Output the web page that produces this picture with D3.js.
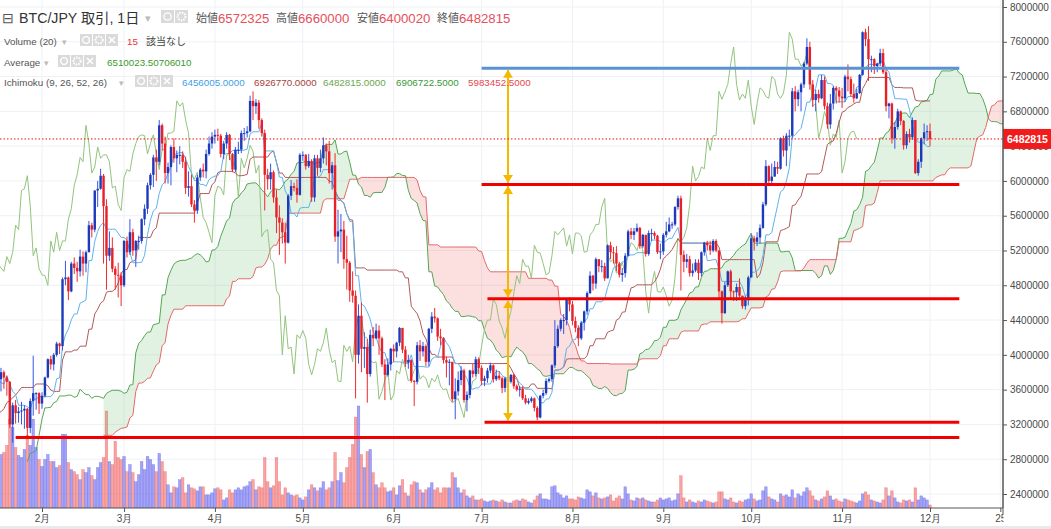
<!DOCTYPE html>
<html>
<head>
<meta charset="utf-8">
<script src="https://cdn.jsdelivr.net/npm/d3@7"></script>
<style>
body { margin: 0; background: #fff; overflow: hidden; }
svg { display: block; }
</style>
</head>
<body>
<div id="chart"></div>
<script>
// daily BTC/JPY bars, prices in 万円 (10,000 JPY). open = previous close.
const startDay = "2020-12-08";
const firstOpen = 199;
const visibleFrom = "2021-01-18";

const closeMan = [
  190,193,190,188,195,199,200,202,221,237,240,248,244,236,247,241,246,257,274,273,281,284,299,301,
  305,334,340,332,353,382,409,424,418,397,369,353,388,407,382,376,372,380,374,369,320,342,333,335,336,338,316,347,356,356,344,
  353,374,395,389,400,413,410,487,489,473,505,500,496,513,505,518,549,544,589,591,606,571,514,523,499,492,491,480,
  531,518,541,520,531,531,556,568,595,607,627,622,664,643,609,616,639,626,630,630,622,592,594,573,566,604,613,611,631,643,651,
  653,652,631,643,653,631,613,636,636,655,655,657,692,686,690,670,655,607,602,610,581,558,552,541,529,583,594,592,584,630,
  630,617,623,581,626,615,626,641,634,609,618,536,542,544,510,506,474,468,400,445,407,409,378,423,419,428,419,389,377,389,407,
  404,414,431,406,391,394,370,369,411,404,410,392,430,444,442,421,419,394,391,392,349,358,371,382,348,354,382,378,395,385,
  370,373,382,388,372,376,373,362,373,369,377,364,360,361,350,345,347,350,339,328,353,356,370,372,388,410,430,440,440,464,458,
  439,431,419,437,450,471,491,482,510,502,502,488,526,518,517,505,492,494,514,542,538,542,546,525,538,516,540,540,537,518,519,
  538,542,550,550,570,580,515,507,510,494,497,506,494,518,529,526,520,531,520,473,448,480,496,473,472,478,468,456,463,489,
  534,530,535,546,573,617,600,605,616,614,649,635,652,652,703,694,702,711,735,754,711,693,700,695,716,686,665,689,707,704,697,
  695,720,717,700,695,701,722,771,763,740,740,732,735,747,725,686,689,649,662,680,669,641,654,650,670,609,622,649,656,657.2325,
  648.2815
];
const highMan = [
  200,194,193,190,196,200,202,203,222,243,244,249,249,247,249,248,248,258,276,290,284,287,301,304,
  308,343,355,349,356,384,415,434,430,420,400,380,391,417,410,385,378,385,382,376,370,345,348,340,346,342,339,350,399,357,357,
  357,375,396,399,402,415,414,489,508,490,507,512,507,521,519,520,554,552,589,600,614,608,579,542,535,502,506,495,
  532,536,556,545,532,537,557,573,598,609,630,636,670,666,651,621,641,649,635,640,634,628,611,607,578,607,615,620,636,651,656,
  659,660,654,646,656,654,632,639,645,658,661,663,698,703,694,693,672,659,614,620,612,590,572,557,552,585,601,598,602,632,
  634,631,631,625,630,630,636,650,643,646,622,632,567,562,554,537,508,496,474,458,460,426,418,429,432,436,434,421,395,396,408,
  412,415,432,431,410,400,395,371,415,417,415,412,431,449,454,443,430,420,398,395,392,373,381,387,384,358,383,390,398,397,
  388,376,385,391,389,383,381,375,375,376,378,378,366,364,364,354,350,352,351,341,354,360,373,374,389,440,434,442,447,465,466,
  462,444,434,439,451,473,496,492,512,510,509,506,527,530,524,525,507,500,517,544,546,546,551,547,539,538,543,545,542,538,528,
  540,553,558,553,571,583,583,520,516,514,505,510,510,519,530,531,531,533,533,520,474,484,497,498,474,482,488,468,468,491,
  538,537,541,550,576,624,618,620,623,622,650,652,655,659,707,709,705,713,737,764,760,716,705,705,722,720,690,700,709,709,708,
  707,722,734,720,712,706,723,772,775,778,744,741,736,752,752,728,690,690,668,683,681,670,657,660,673,670,625,650,666,664,
  666
];
const lowMan = [
  187,184,186,181,188,193,197,198,200,221,230,238,237,227,231,234,235,242,256,261,267,274,282,293,
  297,302,325,291,322,350,377,393,390,375,316,335,337,380,365,351,346,358,361,353,316,299,321,322,320,315,305,310,330,337,332,
  338,351,373,383,382,398,401,405,480,463,472,493,484,490,491,495,518,535,541,570,590,505,475,508,495,475,466,456,
  478,512,515,514,501,521,528,549,562,590,593,600,618,635,597,597,595,621,610,619,615,585,582,570,552,562,600,604,603,629,637,
  643,646,627,625,637,624,610,610,631,632,646,650,656,670,677,660,651,566,590,590,575,540,515,528,505,528,578,588,575,583,
  623,613,615,576,576,606,610,620,618,597,590,530,505,518,499,475,461,460,350,390,380,385,345,375,410,418,400,386,348,375,382,
  392,397,410,402,386,384,368,341,366,393,398,387,387,425,437,416,411,390,374,365,346,326,353,365,345,335,350,374,375,378,
  365,364,368,379,368,370,371,356,357,365,367,361,358,352,348,343,343,345,335,325,327,350,354,368,369,385,408,427,424,434,450,
  434,426,410,417,428,446,470,474,476,495,495,485,488,510,505,496,489,484,489,513,533,532,541,522,523,513,514,531,533,516,510,
  515,535,541,545,548,567,474,495,500,490,490,495,486,490,514,520,515,518,518,465,436,447,478,465,462,462,466,453,452,457,
  489,520,525,528,545,571,594,597,605,608,613,628,617,640,649,680,686,680,707,733,705,685,680,690,694,682,660,660,682,689,690,
  684,691,703,697,690,694,700,721,755,715,725,723,725,732,723,680,672,643,637,659,664,636,637,644,647,608,606,615,642,646,
  640.002
];
// volume from 2021-01-18 (relative units)
const volume = [
  53,55,62,88,80,60,52,50,58,72,62,88,60,48,
  41,48,53,46,46,40,42,73,73,45,38,36,33,28,38,35,40,32,28,40,45,50,96,46,43,66,50,48,
  51,36,43,35,26,33,46,38,51,48,43,36,54,46,36,23,15,21,20,28,30,15,23,20,19,17,21,21,13,13,15,
  19,20,18,8,10,18,15,18,20,18,21,22,26,28,18,21,20,50,26,20,22,50,26,13,20,15,13,12,13,10,
  8,11,18,23,20,17,20,26,18,20,26,55,27,35,25,40,50,63,90,101,53,40,56,58,35,23,20,25,20,16,17,
  20,13,22,28,15,12,23,26,25,18,15,18,20,25,18,20,15,20,20,20,35,30,20,15,18,12,10,12,8,8,
  9,7,6,7,8,7,6,8,6,5,5,7,8,7,9,8,6,5,8,12,14,9,9,8,21,22,15,13,10,12,9,
  9,8,11,10,9,18,16,12,15,10,9,10,11,13,7,10,12,9,21,14,8,7,10,9,10,8,7,6,6,8,10,
  8,9,10,7,8,14,32,10,6,8,6,5,7,6,8,7,6,5,6,16,16,9,8,10,6,5,7,6,8,9,
  14,9,7,8,17,21,11,9,8,6,14,12,13,11,18,10,14,12,16,20,17,12,8,7,9,11,17,12,8,9,7,
  6,9,8,7,6,5,7,14,16,13,8,7,6,5,8,20,12,17,10,6,5,8,7,8,6,20,8,12,10,8,
  3
];

const priceTicks = [2400000,2800000,3200000,3600000,4000000,4400000,4800000,5200000,5600000,6000000,6400000,6800000,7200000,7600000,8000000];
const monthTicks = [
  ["2021-02-01","2月"],["2021-03-01","3月"],["2021-04-01","4月"],["2021-05-01","5月"],
  ["2021-06-01","6月"],["2021-07-01","7月"],["2021-08-01","8月"],["2021-09-01","9月"],
  ["2021-10-01","10月"],["2021-11-01","11月"],["2021-12-01","12月"],["2021-12-25","25"]
];
// hand-drawn levels
const levelPrices = [7295000, 5960000, 4645000, 3225000, 3050000];
const levelStarts = ["2021-07-01","2021-07-01","2021-07-03","2021-07-02","2021-01-23"];
const levelColors = ["#5a92d2","#f00000","#f00000","#f00000","#f00000"];
const levelEnd = "2021-12-11";
const arrowDate = "2021-07-10";
const arrowLegs = [[7295000,5960000],[5960000,4645000],[4645000,3225000]];
const lastClose = 6482815;

const W = 1051, H = 529, plotR = 1003, plotB = 508;
const parse = d3.utcParse("%Y-%m-%d");
const day0 = parse(startDay);
const visStart = parse(visibleFrom);

const bars = closeMan.map((c, i) => ({
  date: d3.utcDay.offset(day0, i),
  open: (i === 0 ? firstOpen : closeMan[i - 1]) * 10000,
  close: c * 10000,
  high: highMan[i] * 10000,
  low: lowMan[i] * 10000
}));
const visIndex = bars.findIndex(b => +b.date === +visStart);
bars.forEach((b, i) => { b.vol = i >= visIndex ? volume[i - visIndex] : null; });

const x = d3.scaleUtc().domain([parse("2021-02-01"), parse("2021-12-01")]).range([42, 930]);
const y = d3.scaleLinear().domain([2400000, 8000000]).range([494, 7]);
const yVol = d3.scaleLinear().domain([0, 100]).range([plotB, 407]);

// ichimoku (9, 26, 52, 26)
function midRange(i, n) {
  if (i < n - 1) return null;
  let hi = -Infinity, lo = Infinity;
  for (let k = i - n + 1; k <= i; k++) { hi = Math.max(hi, bars[k].high); lo = Math.min(lo, bars[k].low); }
  return (hi + lo) / 2;
}
const tenkan = bars.map((b, i) => ({ date: b.date, v: midRange(i, 9) }));
const kijun = bars.map((b, i) => ({ date: b.date, v: midRange(i, 26) }));
const cloud = bars.map((b, i) => ({
  date: d3.utcDay.offset(b.date, 25),
  a: tenkan[i].v != null && kijun[i].v != null ? (tenkan[i].v + kijun[i].v) / 2 : null,
  b: midRange(i, 52)
}));
const chikou = bars.map(b => ({ date: d3.utcDay.offset(b.date, -25), v: b.close }));

const svg = d3.select("#chart").append("svg").attr("width", W).attr("height", H)
  .style("font-family", "'Liberation Sans', 'Noto Sans CJK JP', sans-serif");

svg.append("defs").append("clipPath").attr("id", "plot")
  .append("rect").attr("x", 0).attr("y", 0).attr("width", plotR).attr("height", plotB);

const marker = svg.select("defs").append("marker").attr("id", "head")
  .attr("viewBox", "0 0 8 10").attr("refX", 8).attr("refY", 5)
  .attr("markerWidth", 8).attr("markerHeight", 10).attr("markerUnits", "userSpaceOnUse")
  .attr("orient", "auto-start-reverse");
marker.append("path").attr("d", "M0,0L8,5L0,10Z").attr("fill", "#f5b800");

// grid
const grid = svg.append("g");
grid.selectAll(".hg").data(priceTicks).join("line")
  .attr("x1", 0).attr("x2", plotR).attr("y1", d => y(d)).attr("y2", d => y(d))
  .attr("stroke", "#eef1f5");
grid.selectAll(".vg").data(monthTicks).join("line")
  .attr("x1", d => x(parse(d[0]))).attr("x2", d => x(parse(d[0])))
  .attr("y1", 0).attr("y2", plotB).attr("stroke", "#eef1f5");

const plot = svg.append("g").attr("clip-path", "url(#plot)");

// volume
const volBars = bars.filter(b => b.vol != null);
plot.append("g").selectAll("rect").data(volBars).join("rect")
  .attr("x", d => x(d.date) - 1.3).attr("width", 2.6)
  .attr("y", d => yVol(d.vol)).attr("height", d => plotB - yVol(d.vol))
  .attr("fill", d => d.close >= d.open ? "rgba(90,90,240,0.55)" : "rgba(240,90,90,0.55)")
  .attr("stroke", d => d.close >= d.open ? "rgba(70,70,230,0.5)" : "rgba(235,70,70,0.5)")
  .attr("stroke-width", 0.5);

// cloud
const both = d => d.a != null && d.b != null;
const upArea = d3.area().defined(both)
  .x(d => x(d.date)).y0(d => y(d.b)).y1(d => y(Math.max(d.a, d.b)));
const dnArea = d3.area().defined(both)
  .x(d => x(d.date)).y0(d => y(d.a)).y1(d => y(Math.max(d.a, d.b)));
plot.append("path").datum(cloud).attr("d", upArea).attr("fill", "rgba(110,190,110,0.2)");
plot.append("path").datum(cloud).attr("d", dnArea).attr("fill", "rgba(240,110,110,0.22)");

const line = key => d3.line().defined(d => d[key] != null).x(d => x(d.date)).y(d => y(d[key]));
plot.append("path").datum(cloud).attr("d", line("a")).attr("fill", "none").attr("stroke", "#55a655").attr("stroke-width", 1);
plot.append("path").datum(cloud).attr("d", line("b")).attr("fill", "none").attr("stroke", "#e26a6a").attr("stroke-width", 1);
plot.append("path").datum(chikou).attr("d", line("v")).attr("fill", "none").attr("stroke", "#93c47d").attr("stroke-width", 1);
plot.append("path").datum(kijun).attr("d", line("v")).attr("fill", "none").attr("stroke", "#b05a5a").attr("stroke-width", 1);
plot.append("path").datum(tenkan).attr("d", line("v")).attr("fill", "none").attr("stroke", "#5fb2ee").attr("stroke-width", 1);

// candles
const candles = plot.append("g").selectAll("g").data(bars).join("g");
candles.append("line")
  .attr("x1", d => x(d.date)).attr("x2", d => x(d.date))
  .attr("y1", d => y(d.high)).attr("y2", d => y(d.low))
  .attr("stroke", d => d.close >= d.open ? "#3656e6" : "#f02a2a").attr("stroke-width", 1);
candles.append("rect")
  .attr("x", d => x(d.date) - 1.2).attr("width", 2.4)
  .attr("y", d => y(Math.max(d.open, d.close)))
  .attr("height", d => Math.max(1, Math.abs(y(d.open) - y(d.close))))
  .attr("fill", d => d.close >= d.open ? "#1d3bb8" : "#e8202a");

// levels
svg.append("g").selectAll("line").data(levelPrices).join("line")
  .attr("x1", (d, i) => x(parse(levelStarts[i]))).attr("x2", x(parse(levelEnd)))
  .attr("y1", d => y(d)).attr("y2", d => y(d))
  .attr("stroke", (d, i) => levelColors[i]).attr("stroke-width", 3);

// arrows
const ax = x(parse(arrowDate));
svg.append("g").selectAll("line").data(arrowLegs).join("line")
  .attr("x1", ax).attr("x2", ax)
  .attr("y1", d => y(d[0]) + 1.5).attr("y2", d => y(d[1]) - 1.5)
  .attr("stroke", "#f5b800").attr("stroke-width", 2)
  .attr("marker-start", "url(#head)").attr("marker-end", "url(#head)");

// last price line
svg.append("line").attr("x1", 0).attr("x2", plotR).attr("y1", y(lastClose)).attr("y2", y(lastClose))
  .attr("stroke", "#f01010").attr("stroke-width", 1).attr("stroke-dasharray", "1.5,2");

// right axis
const yAxis = svg.append("g").attr("transform", `translate(${plotR},0)`)
  .call(d3.axisRight(y).tickValues(priceTicks).tickSize(4).tickPadding(3).tickFormat(d3.format("d")));
yAxis.select(".domain").attr("stroke", "#555").attr("d", `M0,0V${plotB}`);
yAxis.selectAll(".tick line").attr("stroke", "#555");
yAxis.selectAll("text").attr("font-size", 10).attr("fill", "#4a4a4a");

const tag = svg.append("g").attr("transform", `translate(${plotR},${y(lastClose)})`);
tag.append("rect").attr("x", 0).attr("y", -10).attr("width", W - plotR).attr("height", 20).attr("fill", "#f21b1b");
tag.append("text").attr("x", 4).attr("y", 4).attr("fill", "#fff").attr("font-size", 10.5).attr("font-weight", "bold")
  .text(d3.format("d")(lastClose));

// bottom axis
const xAxis = svg.append("g").attr("transform", `translate(0,${plotB})`)
  .call(d3.axisBottom(x).tickValues(monthTicks.map(d => parse(d[0]))).tickSize(4).tickPadding(3)
    .tickFormat((d, i) => monthTicks[i][1]));
xAxis.select(".domain").attr("stroke", "#555").attr("d", `M0,0H${plotR}`);
xAxis.selectAll(".tick line").attr("stroke", "#555");
xAxis.selectAll("text").attr("font-size", 10).attr("fill", "#4a4a4a");
svg.append("rect").attr("x", plotR + 0.5).attr("y", plotB + 1).attr("width", 48).attr("height", 18).attr("fill", "#fff");
svg.append("line").attr("x1", plotR).attr("x2", plotR).attr("y1", 0).attr("y2", plotB + 6).attr("stroke", "#555");
svg.append("rect").attr("x", 0).attr("y", 526).attr("width", W).attr("height", 3).attr("fill", "#e9e9ec");

// header legend
const hdr = svg.append("g");
function txt(xp, yp, s, size, color, weight) {
  return hdr.append("text").attr("x", xp).attr("y", yp).attr("font-size", size)
    .attr("fill", color).attr("font-weight", weight || "normal").text(s);
}
function icons(xp, yp, n, sz) {
  for (let k = 0; k < n; k++) {
    const g = hdr.append("g").attr("transform", `translate(${xp + k * (sz + 1)},${yp})`);
    g.append("rect").attr("width", sz).attr("height", sz).attr("fill", "#dadada");
    const c = sz / 2;
    if (k === 0) g.append("circle").attr("cx", c).attr("cy", c).attr("r", sz * 0.28).attr("fill", "none").attr("stroke", "#fff").attr("stroke-width", 1.3);
    else if (k === 1) g.append("circle").attr("cx", c).attr("cy", c).attr("r", sz * 0.3).attr("fill", "none").attr("stroke", "#fff").attr("stroke-width", 2).attr("stroke-dasharray", "1.6,1");
    else g.append("path").attr("d", `M${c - 3},${c - 3}L${c + 3},${c + 3}M${c + 3},${c - 3}L${c - 3},${c + 3}`).attr("stroke", "#fff").attr("stroke-width", 1.5);
  }
}
const headerLabels = ["始値", "高値", "安値", "終値"];
const headerValues = ["6572325", "6660000", "6400020", "6482815"];
const headerX = [196, 276, 357, 437];
const ichimokuValues = ["6456005.0000", "6926770.0000", "6482815.0000", "6906722.5000", "5983452.5000"];
const ichimokuColors = ["#3f9fe6", "#a5423d", "#6aa84f", "#3a983a", "#e5484d"];
const ichimokuX = [182, 254, 323, 396, 468];

txt(2, 23, "⊟", 14, "#555");
txt(19, 23, "BTC/JPY 取引, 1日", 14.2, "#333");
txt(145, 22, "▾", 11, "#bbb");
icons(161, 10, 2, 13);
headerLabels.forEach((l, i) => {
  txt(headerX[i], 22, l, 11, "#555");
  txt(headerX[i] + 22, 22.5, headerValues[i], 13.2, "#e4505a");
});
txt(4, 45, "Volume (20)", 9.8, "#555");
txt(62, 45, "▾", 9, "#bbb");
icons(80, 34, 3, 12);
txt(127, 45, "15", 9.8, "#e33");
txt(146, 45, "該当なし", 10, "#444");
txt(4, 66, "Average", 9.8, "#555");
txt(44, 66, "▾", 9, "#bbb");
icons(58, 55, 3, 12);
txt(107, 66, "6510023.50706010", 9.8, "#3a9a2a");
txt(4, 86, "Ichimoku (9, 26, 52, 26)", 9.8, "#555");
txt(119, 86, "▾", 9, "#bbb");
icons(135, 75, 3, 12);
ichimokuValues.forEach((v, i) => txt(ichimokuX[i], 86, v, 9.8, ichimokuColors[i]));
</script>
</body>
</html>
